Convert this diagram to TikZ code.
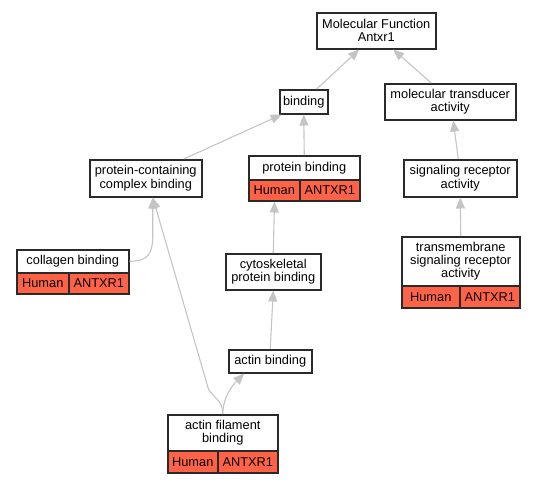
\documentclass[tikz,border=0pt]{standalone}
\usepackage{fontspec}
\setmainfont{Liberation Sans}
\usetikzlibrary{arrows.meta}
\definecolor{bc}{HTML}{2A2A2A}
\definecolor{eg}{HTML}{C4C4C4}
\definecolor{tom}{HTML}{FF6347}
\tikzset{
  box/.style={draw=bc, line width=1.5pt, fill=white, inner sep=0pt, align=center, anchor=north west,
    font=\fontsize{12.8pt}{13.2pt}\selectfont},
  cell/.style={box, fill=tom},
  edge/.style={draw=eg, line width=1.1pt, -{Triangle[length=11pt,width=9pt]}},
}
\begin{document}
\begin{tikzpicture}[x=1pt,y=1pt]
\useasboundingbox (0,0) rectangle (535,-483);
% plain nodes
\node[box, minimum width=119pt, minimum height=36pt] (mf) at (316,-12) {Molecular Function\\Antxr1};
\node[box, minimum width=48pt, minimum height=24pt] (bind) at (279,-89) {binding};
\node[box, minimum width=131pt, minimum height=36pt] (mt) at (384,-83) {molecular transducer\\activity};
\node[box, minimum width=112pt, minimum height=37pt] (pcc) at (89,-159) {protein-containing\\complex binding};
\node[box, minimum width=113pt, minimum height=37pt] (sr) at (403,-159) {signaling receptor\\activity};
\node[box, minimum width=95pt, minimum height=36pt] (cyt) at (225,-253) {cytoskeletal\\protein binding};
\node[box, minimum width=83pt, minimum height=23pt] (ab) at (228,-349) {actin binding};
% protein binding
\node[box, minimum width=111pt, minimum height=24pt] (pb) at (248,-155) {protein binding};
\node[cell, minimum width=51pt, minimum height=21pt] (pbh) at (248,-179) {Human};
\node[cell, minimum width=60pt, minimum height=21pt] (pba) at (299,-179) {ANTXR1};
% collagen binding
\node[box, minimum width=112pt, minimum height=23pt] (col) at (16,-249) {collagen binding};
\node[cell, minimum width=52pt, minimum height=21pt] (colh) at (16,-272) {Human};
\node[cell, minimum width=60pt, minimum height=21pt] (cola) at (68,-272) {ANTXR1};
% transmembrane
\node[box, minimum width=118pt, minimum height=49pt] (tm) at (401,-236) {transmembrane\\signaling receptor\\activity};
\node[cell, minimum width=58pt, minimum height=22pt] (tmh) at (401,-285) {Human};
\node[cell, minimum width=60pt, minimum height=22pt] (tma) at (459,-285) {ANTXR1};
% actin filament binding
\node[box, minimum width=110pt, minimum height=36pt] (af) at (167,-414) {actin filament\\binding};
\node[cell, minimum width=50pt, minimum height=22pt] (afh) at (167,-450) {Human};
\node[cell, minimum width=60pt, minimum height=22pt] (afa) at (217,-450) {ANTXR1};
% edges
\draw[edge] ([xshift=13pt]bind.north) -- ([xshift=-17pt]mf.south);
\draw[edge] ([xshift=-19pt]mt.north) -- ([xshift=17pt]mf.south);
\draw[edge] ([xshift=38pt]pcc.north) -- ([xshift=-22pt]bind.south);
\draw[edge] (pb.north) -- (bind.south);
\draw[edge] ([xshift=-2pt]sr.north) -- ([xshift=3pt]mt.south);
\draw[edge] (tm.north) -- (sr.south);
\draw[edge] (cyt.north) -- ([xshift=-26pt]pbh.south east);
\draw[edge] (ab.north) -- (cyt.south);
\draw[edge] (af.north) .. controls +(0,14) and +(-14,-14) .. ([xshift=-26pt]ab.south);
\draw[edge] (af.north) .. controls +(0,12) and +(8,-10) .. ([xshift=-14pt,yshift=24pt]af.north) -- ([xshift=7pt]pcc.south);
\draw[edge] (col.east) .. controls +(20,0) and +(0,-18) .. ([xshift=7pt,yshift=-37pt]pcc.south) -- ([xshift=7pt]pcc.south);
\end{tikzpicture}
\end{document}
